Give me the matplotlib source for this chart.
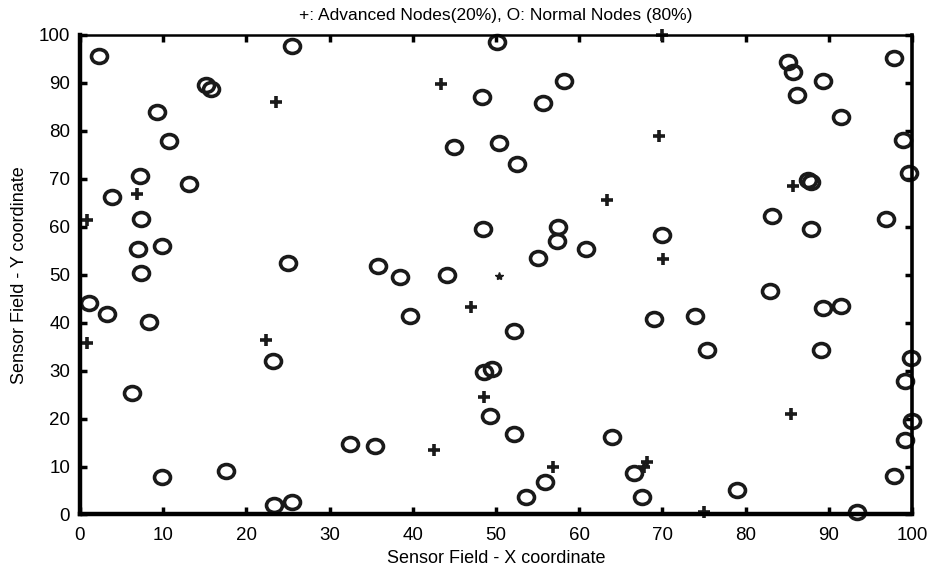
import numpy as np
import matplotlib
matplotlib.use("Agg")
import matplotlib.pyplot as plt
from matplotlib.path import Path
from matplotlib.transforms import Affine2D

plt.rcParams['font.family'] = ['Liberation Sans', 'DejaVu Sans']

# normal nodes (O)
normal_x = [2.3, 15.1, 15.7, 25.5, 9.3, 10.7, 7.2, 13.1, 3.8, 7.3, 7.0, 9.9, 7.3, 25.0,
            35.8, 38.5, 44.1, 44.9,
            50.1, 58.2, 48.3, 55.7, 50.4, 52.5, 48.4, 57.5, 57.3, 55.1, 60.8, 69.9,
            85.1, 85.7, 89.3, 86.2, 91.5, 97.8, 98.9, 99.6, 87.5, 87.9, 83.2, 87.9,
            96.9, 82.9,
            1.1, 3.3, 8.3, 6.3, 23.2, 9.9, 17.6, 23.3, 25.5, 32.5, 35.5, 39.7,
            52.2, 48.5, 49.5, 49.3, 52.2, 64.0, 55.9, 53.6, 66.6, 67.5, 69.0, 73.9,
            75.4, 89.3, 91.5, 89.1, 79.0, 93.4, 99.9, 99.2, 100.0, 99.2, 97.8]
normal_y = [95.6, 89.6, 88.8, 97.6, 83.9, 77.9, 70.6, 68.9, 66.3, 61.7, 55.3, 55.9, 50.4, 52.5,
            51.9, 49.5, 49.9, 76.7,
            98.6, 90.5, 87.0, 85.8, 77.4, 73.0, 59.5, 60.0, 57.1, 53.4, 55.3, 58.2,
            94.4, 92.3, 90.5, 87.5, 82.8, 95.1, 78.0, 71.3, 69.8, 69.4, 62.3, 59.5,
            61.7, 46.5,
            44.2, 41.8, 40.2, 25.4, 32.0, 7.9, 9.1, 1.9, 2.6, 14.8, 14.3, 41.4,
            38.3, 29.8, 30.3, 20.6, 16.7, 16.1, 6.7, 3.7, 8.6, 3.7, 40.7, 41.3,
            34.3, 43.0, 43.5, 34.3, 5.0, 0.5, 32.6, 27.9, 19.5, 15.5, 8.0]

# advanced nodes (+)
adv_x = [0.9, 6.9, 23.6, 43.4, 70.0, 69.6, 63.4, 85.7, 70.1, 0.9, 22.3, 42.5,
         47.0, 48.5, 56.8, 68.2, 67.8, 75.0, 85.5]
adv_y = [61.4, 66.8, 86.1, 89.7, 100.0, 78.9, 65.6, 68.6, 53.2, 35.7, 36.4, 13.5,
         43.3, 24.6, 9.8, 11.0, 9.8, 0.5, 21.0]
odd_x = [50.4]
odd_y = [49.7]

ticks = [0, 10, 20, 30, 40, 50, 60, 70, 80, 90, 100]

ellipse = Path.unit_circle().transformed(Affine2D().scale(1.15, 1.0))

fig = plt.figure(figsize=(9.33, 5.71), dpi=100)
ax = fig.add_axes([0.0857, 0.099, 0.8918, 0.8398])

ax.plot(normal_x, normal_y, linestyle='none', marker=ellipse, markersize=11.5,
        markerfacecolor='none', markeredgecolor='#1a1a1a', markeredgewidth=2.6, clip_on=False)
ax.plot(adv_x, adv_y, linestyle='none', marker='+', markersize=8,
        markeredgecolor='#1a1a1a', markeredgewidth=2.6, clip_on=False)
ax.plot(odd_x, odd_y, linestyle='none', marker='*', markersize=6,
        color='#1a1a1a', clip_on=False)

ax.set_xlim(0, 100)
ax.set_ylim(0, 100)
ax.set_xticks(ticks)
ax.set_yticks(ticks)
ax.tick_params(direction='in', length=5, width=2.5, top=True, right=True,
               labelsize=13.5)
ax.tick_params(axis='x', pad=9)
ax.tick_params(axis='y', pad=7)
for side, lw in [('left', 3.2), ('bottom', 3.2), ('right', 2.6), ('top', 1.8)]:
    ax.spines[side].set_linewidth(lw)

ax.set_title('+: Advanced Nodes(20%), O: Normal Nodes (80%)', fontsize=12.5, pad=11)
ax.set_xlabel('Sensor Field - X coordinate', fontsize=13, labelpad=4)
ax.set_ylabel('Sensor Field - Y coordinate', fontsize=13, labelpad=8)

fig.savefig('out.png', dpi=100)
